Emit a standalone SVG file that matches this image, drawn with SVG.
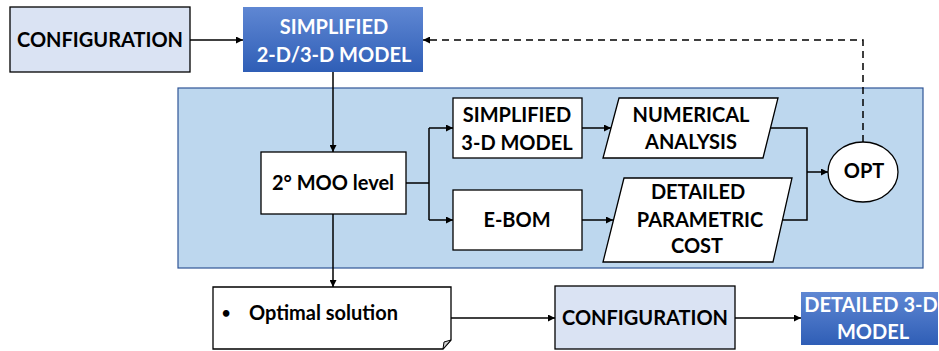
<svg xmlns="http://www.w3.org/2000/svg" width="939" height="351" viewBox="0 0 939 351">
  <defs>
    <linearGradient id="blueGrad" x1="0" y1="0" x2="0" y2="1">
      <stop offset="0" stop-color="#5f87d3"/>
      <stop offset="1" stop-color="#2f5eb6"/>
    </linearGradient>
    <marker id="arrow" viewBox="0 0 10 10" refX="10" refY="5" markerWidth="7" markerHeight="7" markerUnits="userSpaceOnUse" orient="auto">
      <path d="M0,0 L10,5 L0,10 Z" fill="#000"/>
    </marker>
    <style>
      .txt { font-family: Lato, "Open Sans", "Liberation Sans", sans-serif; font-weight: bold; font-size: 20px; fill: #000; text-anchor: middle; }
      .wt { fill: #fff; }
      .box { fill: #fff; stroke: #000; stroke-width: 1.3; }
      .cfg { fill: #dae3f3; stroke: #000; stroke-width: 1.3; }
      .grad { fill: url(#blueGrad); stroke: none; }
      .wire { fill: none; stroke: #000; stroke-width: 1.5; }
      .arr { marker-end: url(#arrow); }
      .dash { stroke-dasharray: 7 5; }
    </style>
  </defs>

  <!-- optimisation loop panel -->
  <rect id="panel" x="178" y="88" width="745" height="180" fill="#bdd7ee" stroke="#2f5597" stroke-width="1.2"/>

  <g id="connectors">
    <path class="wire arr" d="M190,40 H243"/>
    <path class="wire arr" d="M333,72 V152"/>
    <path class="wire" d="M406,183 H429 M429,128 V220"/>
    <path class="wire arr" d="M429,128 H453"/>
    <path class="wire arr" d="M429,220 H453"/>
    <path class="wire arr" d="M582,128 H611"/>
    <path class="wire arr" d="M582,220 H613"/>
    <path class="wire" d="M770,128 H807 V220 H782"/>
    <path class="wire arr" d="M807,172 H828"/>
    <path class="wire dash arr" d="M863,142 V40 H423"/>
    <path class="wire arr" d="M333,214 V287"/>
    <path class="wire arr" d="M451,318 H555"/>
    <path class="wire arr" d="M735,318 H801"/>
  </g>

  <g id="configuration-in">
    <rect class="cfg" x="10" y="7" width="180" height="65"/>
    <text class="txt" x="100" y="47">CONFIGURATION</text>
  </g>

  <g id="simplified-model">
    <rect class="grad" x="243" y="7" width="180" height="65"/>
    <text class="txt wt" x="334" y="34">SIMPLIFIED</text>
    <text class="txt wt" x="334" y="62">2-D/3-D MODEL</text>
  </g>

  <g id="moo-level">
    <rect class="box" x="261" y="152" width="145" height="62"/>
    <text class="txt" x="333" y="190">2° MOO level</text>
  </g>

  <g id="simplified-3d">
    <rect class="box" x="453" y="98" width="129" height="60"/>
    <text class="txt" x="517" y="122">SIMPLIFIED</text>
    <text class="txt" x="517" y="150">3-D MODEL</text>
  </g>

  <g id="e-bom">
    <rect class="box" x="453" y="190" width="129" height="60"/>
    <text class="txt" x="517" y="227">E-BOM</text>
  </g>

  <g id="numerical-analysis">
    <polygon class="box" points="619,98 778,98 763,158 603,158"/>
    <text class="txt" x="691" y="122">NUMERICAL</text>
    <text class="txt" x="691" y="149">ANALYSIS</text>
  </g>

  <g id="parametric-cost">
    <polygon class="box" points="624,178 792,178 773,262 603,262"/>
    <text class="txt" x="698" y="199">DETAILED</text>
    <text class="txt" x="700" y="227">PARAMETRIC</text>
    <text class="txt" x="697" y="253">COST</text>
  </g>

  <g id="opt">
    <ellipse class="box" cx="863" cy="172" rx="35" ry="30"/>
    <text class="txt" x="864" y="178">OPT</text>
  </g>

  <g id="optimal-solution">
    <path class="box" d="M213,287 H451 V340 L443,349 H213 Z"/>
    <path d="M451,340 L443,349 L444,342 Z" fill="#cfcfcf" stroke="#000" stroke-width="1"/>
    <text class="txt" x="226" y="318" style="font-size:15px">•</text>
    <text class="txt" x="249" y="320" style="text-anchor:start">Optimal solution</text>
  </g>

  <g id="configuration-out">
    <rect class="cfg" x="555" y="286" width="180" height="63"/>
    <text class="txt" x="645" y="325">CONFIGURATION</text>
  </g>

  <g id="detailed-model">
    <rect class="grad" x="801" y="292" width="137" height="53"/>
    <text class="txt wt" x="871" y="312">DETAILED 3-D</text>
    <text class="txt wt" x="873" y="339">MODEL</text>
  </g>
</svg>
